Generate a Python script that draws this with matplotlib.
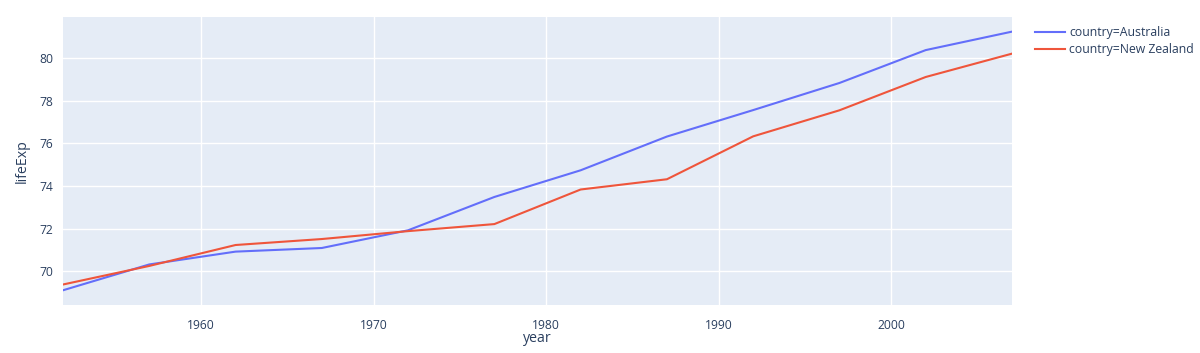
import matplotlib
matplotlib.use("Agg")
import matplotlib.pyplot as plt

years = [1952, 1957, 1962, 1967, 1972, 1977, 1982, 1987, 1992, 1997, 2002, 2007]
australia = [69.12, 70.33, 70.93, 71.1, 71.93, 73.49, 74.74, 76.32, 77.56, 78.83, 80.37, 81.235]
new_zealand = [69.39, 70.26, 71.24, 71.52, 71.89, 72.22, 73.84, 74.32, 76.33, 77.55, 79.11, 80.204]
series_names = ["country=Australia", "country=New Zealand"]
colors = ["#636efa", "#EF553B"]
xticks = [1960, 1970, 1980, 1990, 2000]
yticks = [70, 72, 74, 76, 78, 80]

text_color = "#2a3f5f"
plt.rcParams['font.family'] = ['Open Sans', 'DejaVu Sans']

fig = plt.figure(figsize=(12, 3.53), dpi=100)
ax = fig.add_axes([63/1200, 1 - 305/353, (1012-63)/1200, (305-17)/353])
ax.set_facecolor("#E5ECF6")
for y, name, c in zip([australia, new_zealand], series_names, colors):
    ax.plot(years, y, color=c, lw=1.5, label=name, solid_joinstyle='round')

ax.set_xlim(1952, 2007)
ax.set_ylim(68.43, 81.92)
ax.set_xticks(xticks)
ax.set_yticks(yticks)
ax.grid(True, color="white", lw=1)
ax.set_axisbelow(True)
for s in ax.spines.values():
    s.set_visible(False)
ax.tick_params(axis='x', length=0, colors=text_color, labelsize=8.7, pad=10)
ax.tick_params(axis='y', length=0, colors=text_color, labelsize=8.7, pad=7)
ax.set_xlabel("year", color=text_color, fontsize=10.2, va='center', ha='center')
ax.set_ylabel("lifeExp", color=text_color, fontsize=10.2, va='center', ha='center')
ax.xaxis.set_label_coords(0.5, (305 - 338.5) / 288)
ax.yaxis.set_label_coords((22 - 63) / 949, 0.5)

leg = fig.legend(loc='upper left', bbox_to_anchor=(1033/1200, 1 - 24/353), frameon=False,
                 fontsize=8.8, handlelength=2.4, handletextpad=0.35, labelspacing=0.3,
                 borderaxespad=0, borderpad=0.2)
for t in leg.get_texts():
    t.set_color(text_color)

fig.savefig("out.png", dpi=100)
